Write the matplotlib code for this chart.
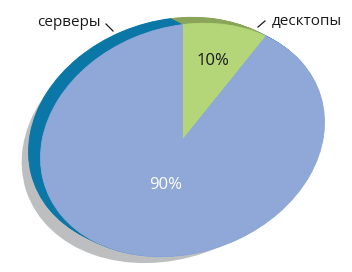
import numpy as np
import matplotlib
matplotlib.use('Agg')
import matplotlib.pyplot as plt
from matplotlib.patches import Ellipse
from matplotlib.transforms import Affine2D

#data
names = ['десктопы', 'серверы']
values = [10, 90]
face_colors = ['#b4d678', '#8fa8d8']
side_colors = ['#8aa55a', '#0a77a6']
shadow_color = '#bcbec0'

plt.rcParams['font.family'] = ['Open Sans', 'DejaVu Sans']

fig = plt.figure(figsize=(3.52, 2.72), dpi=100)
ax = fig.add_axes([0, 0, 1, 1])

# tilted disc: unit circle -> rotated ellipse in pixel coords (y up)
cx, cy = 182.5, 132.0
def tilt(dx=0.0, dy=0.0, s=1.0):
    return Affine2D().scale(145*s, 113*s).rotate_deg(18.8).translate(cx+dx, cy+dy) + ax.transData

start = 75.1

# shadow
sh = Ellipse((0, 0), 2, 2, facecolor=shadow_color, edgecolor='none')
ax.add_patch(sh)
sh.set_transform(tilt(-16, -4, 1.02))

# side of the disc (stacked copies going back)
n = 14
for k in range(n, 0, -1):
    ws, _ = ax.pie(values, startangle=start, counterclock=False, colors=side_colors)
    for w, c in zip(ws, side_colors):
        w.set_edgecolor(c)
        w.set_linewidth(0.6)
        w.set_transform(tilt(-12.0*k/n, 6.0*k/n))

# front face
wedges, texts, autotexts = ax.pie(values, startangle=start, counterclock=False, colors=face_colors,
                                  autopct='%d%%', pctdistance=0.69,
                                  textprops=dict(fontsize=12))
for w, c in zip(wedges, face_colors):
    w.set_edgecolor(c)
    w.set_linewidth(0.6)
    w.set_transform(tilt())
for t in autotexts:
    t.set_transform(tilt())
mid = np.deg2rad((wedges[1].theta1 + wedges[1].theta2)/2)
autotexts[1].set_position((0.39*np.cos(mid), 0.39*np.sin(mid)))
autotexts[0].set_color('#1a1a1a')
autotexts[1].set_color('white')

# outside labels
ax.text(69, 250, names[1], fontsize=11, ha='center', va='center', color='#1a1a1a')
ax.plot([106, 113], [248, 241], color='#1a1a1a', linewidth=0.9)
ax.text(307, 250, names[0], fontsize=11, ha='center', va='center', color='#1a1a1a')
ax.plot([258, 265], [245, 251], color='#1a1a1a', linewidth=0.9)

ax.set_xlim(0, 352)
ax.set_ylim(0, 272)
ax.set_aspect('auto')
ax.axis('off')

plt.savefig('out.png', dpi=100)
